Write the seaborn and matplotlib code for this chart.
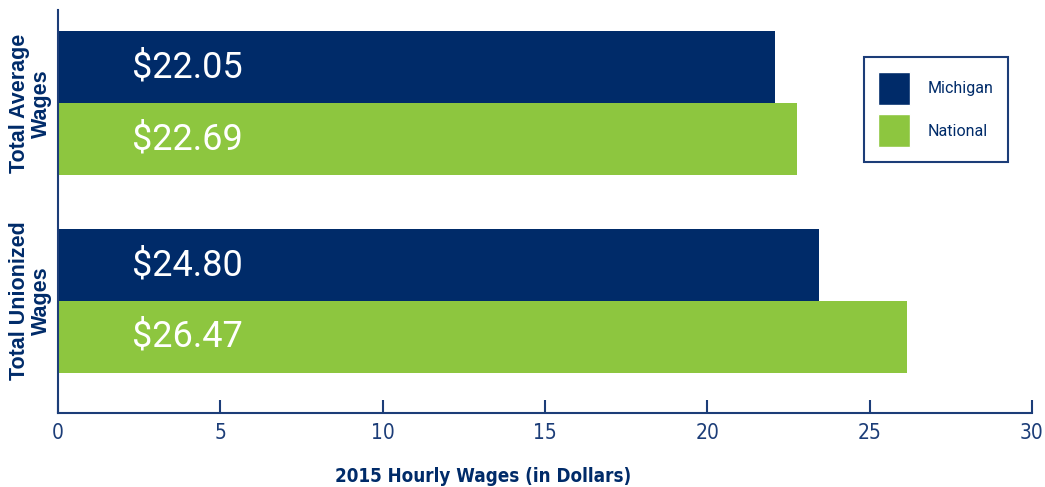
import pandas as pd
import matplotlib.pyplot as plt
import seaborn as sns
from matplotlib.patches import Patch

# Data
categories = ['Total Average\nWages', 'Total Unionized\nWages']
series = ['Michigan', 'National']
michigan_wages = [22.1, 23.45]
national_wages = [22.75, 26.15]
michigan_labels = ['$22.05', '$24.80']
national_labels = ['$22.69', '$26.47']
x_ticks = [0, 5, 10, 15, 20, 25, 30]

NAVY = '#002b69'
GREEN = '#8dc63f'
AXIS = '#1c3d78'

sns.set_theme(style='white')
plt.rcParams['font.family'] = ['DejaVu Sans']
plt.rcParams['font.stretch'] = 'condensed'

df = pd.DataFrame({
    'category': categories * 2,
    'series': [series[0]] * 2 + [series[1]] * 2,
    'wage': michigan_wages + national_wages,
})

fig = plt.figure(figsize=(10.45, 4.87), dpi=100)
ax = fig.add_axes([0.0555, 0.152, 0.932, 0.827])

sns.barplot(data=df, x='wage', y='category', hue='series', orient='h',
            palette=[NAVY, GREEN], width=0.727, ax=ax, legend=False,
            saturation=1, linewidth=0)

ax.set_xlim(0, 30)
ax.set_ylim(1.566, -0.47)
ax.set_xticks(x_ticks)
ax.tick_params(axis='x', bottom=True, direction='in', length=9.5, width=1.5,
               color=AXIS, labelcolor=AXIS, labelsize=15, pad=7)
ax.tick_params(axis='y', left=False, labelleft=False)

# category names, rotated, left of the axis
for i, cat in enumerate(categories):
    ax.text(-0.028, i, cat, transform=ax.get_yaxis_transform(), rotation=90,
            ha='center', va='center', multialignment='center', color=NAVY,
            fontsize=15.5, fontweight='bold', linespacing=1.08,
            family=['Liberation Sans', 'DejaVu Sans'], fontstretch='normal')

for side in ['top', 'right']:
    ax.spines[side].set_visible(False)
for side in ['left', 'bottom']:
    ax.spines[side].set_color(AXIS)
    ax.spines[side].set_linewidth(1.5)

ax.set_ylabel('')
ax.set_xlabel('2015 Hourly Wages (in Dollars)', fontsize=13.5, fontweight='bold',
              color=NAVY)
ax.xaxis.set_label_coords(0.436, -0.133)

# value labels inside the bars
labels = michigan_labels + national_labels
for patch, text in zip(ax.patches, labels):
    yc = patch.get_y() + patch.get_height() / 2
    ax.text(2.28, yc, text, color='white', fontsize=26, va='center', ha='left',
            family=['Roboto', 'DejaVu Sans'], fontstretch='normal')

handles = [Patch(facecolor=NAVY, label=series[0]),
           Patch(facecolor=GREEN, label=series[1])]
leg = ax.legend(handles=handles, loc='upper left', bbox_to_anchor=(0.8275, 0.883),
                borderaxespad=0, handlelength=2.0, handleheight=2.8,
                handletextpad=1.1, labelspacing=0.6, borderpad=0.9,
                fancybox=False, framealpha=1, edgecolor=AXIS,
                prop={'family': ['Roboto', 'DejaVu Sans'], 'size': 11.5,
                      'stretch': 'normal'})
leg.get_frame().set_linewidth(1.5)
for t in leg.get_texts():
    t.set_color(NAVY)

fig.savefig('out.png', dpi=100)
